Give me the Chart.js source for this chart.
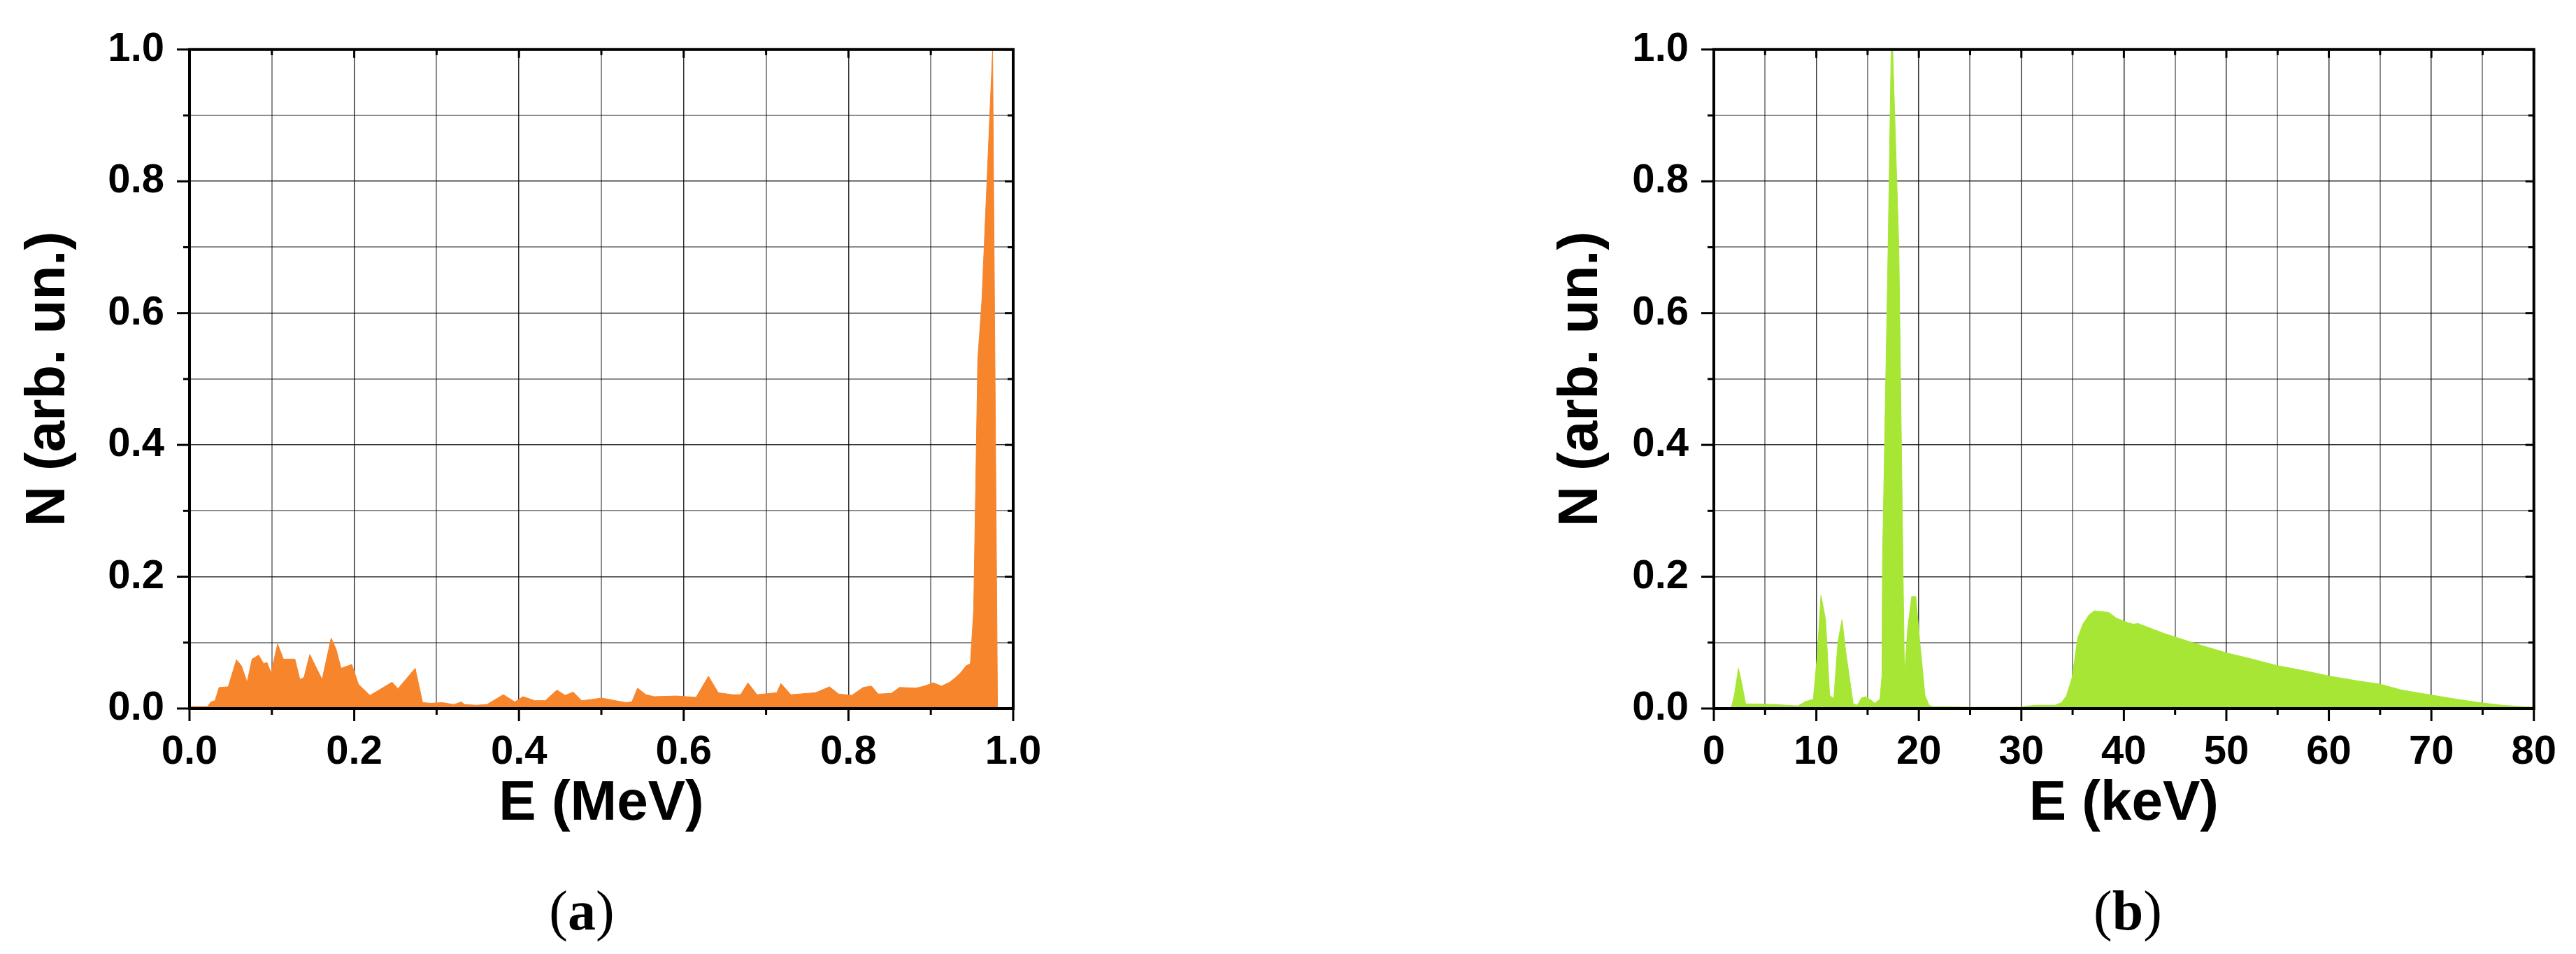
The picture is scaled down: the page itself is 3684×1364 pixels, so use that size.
<!DOCTYPE html>
<html>
<head>
<meta charset="utf-8">
<script src="https://cdn.jsdelivr.net/npm/chart.js@4.4.0/dist/chart.umd.min.js"></script>
<style>
  body { margin: 0; background: #fff; width: 3684px; height: 1364px; position: relative; overflow: hidden; }
  canvas { position: absolute; top: 0; }
  .cap { position: absolute; top: 1302px; transform: translate(-50%, -50%); font: 80px 'Liberation Serif', 'Times New Roman', serif; line-height: 1; color: #000; white-space: nowrap; }
</style>
</head>
<body>
<canvas id="chartA" width="1750" height="1200" style="left:0"></canvas>
<canvas id="chartB" width="1584" height="1200" style="left:2100px"></canvas>
<div class="cap" style="left:832px">(<b>a</b>)</div>
<div class="cap" style="left:3043px">(<b>b</b>)</div>
<script>
// (a) spectrum, E in MeV
const energyMeV = [0.000, 0.022, 0.026, 0.031, 0.036, 0.047, 0.057, 0.063, 0.070, 0.076, 0.084, 0.090, 0.094, 0.099, 0.107,
    0.114, 0.128, 0.134, 0.139, 0.146, 0.161, 0.172, 0.178, 0.184, 0.188, 0.193, 0.197, 0.205, 0.219, 0.226, 0.246, 0.253,
    0.274, 0.283, 0.293, 0.307, 0.321, 0.330, 0.334, 0.348, 0.361, 0.381, 0.395, 0.405, 0.419, 0.432, 0.446, 0.456, 0.466,
    0.476, 0.490, 0.500, 0.517, 0.530, 0.537, 0.544, 0.554, 0.564, 0.591, 0.615, 0.630, 0.642, 0.659, 0.669, 0.678, 0.689,
    0.713, 0.718, 0.730, 0.760, 0.777, 0.788, 0.804, 0.818, 0.828, 0.836, 0.852, 0.862, 0.882, 0.892, 0.903, 0.913, 0.923,
    0.930, 0.936, 0.943, 0.948, 0.952, 0.957, 0.962, 0.975, 0.981];
const countsA = [0.003, 0.003, 0.010, 0.012, 0.032, 0.033, 0.074, 0.065, 0.040, 0.075, 0.081, 0.068, 0.070, 0.054, 0.098,
    0.075, 0.075, 0.044, 0.047, 0.082, 0.044, 0.107, 0.090, 0.061, 0.063, 0.065, 0.067, 0.037, 0.020, 0.025, 0.040, 0.030,
    0.061, 0.009, 0.008, 0.009, 0.006, 0.010, 0.006, 0.005, 0.006, 0.021, 0.010, 0.018, 0.012, 0.012, 0.028, 0.020, 0.025,
    0.012, 0.014, 0.016, 0.012, 0.009, 0.010, 0.031, 0.021, 0.018, 0.019, 0.017, 0.049, 0.024, 0.021, 0.021, 0.039, 0.021,
    0.024, 0.038, 0.021, 0.024, 0.033, 0.022, 0.020, 0.032, 0.034, 0.022, 0.023, 0.032, 0.031, 0.034, 0.039, 0.034, 0.040,
    0.047, 0.054, 0.065, 0.068, 0.150, 0.530, 0.620, 1.000, 0.000];

// (b) spectrum, E in keV
const energyKeV = [0, 1.7, 2.0, 2.4, 2.7, 3.1, 3.8, 6.0, 8.2, 9.0, 9.7, 10.1, 10.45, 10.9, 11.3, 11.7, 12.1, 12.5, 12.9,
    13.6, 14.0, 14.4, 14.8, 15.3, 15.7, 16.2, 16.4, 16.45, 17.0, 17.3, 17.45, 18.05, 18.45, 18.6, 18.9, 19.3, 19.7, 20.1,
    20.6, 21.0, 21.3, 25, 30, 30.4, 31.4, 33.3, 33.9, 34.4, 34.95, 35.5, 36.0, 36.6, 37.1, 38.5, 39.3, 40.1, 40.9, 41.4,
    43.9, 47.1, 50.1, 52.0, 55.0, 57.4, 60.1, 62.8, 65.0, 67.1, 69.8, 72.5, 74.7, 76.9, 79.3, 80];
const countsB = [0.001, 0.001, 0.020, 0.061, 0.040, 0.007, 0.007, 0.006, 0.004, 0.011, 0.014, 0.083, 0.172, 0.135, 0.020,
    0.015, 0.100, 0.135, 0.083, 0.007, 0.005, 0.016, 0.018, 0.013, 0.008, 0.014, 0.050, 0.220, 0.700, 1.000, 1.000, 0.700,
    0.220, 0.050, 0.120, 0.170, 0.170, 0.100, 0.020, 0.005, 0.003, 0.002, 0.002, 0.0035, 0.005, 0.005, 0.009, 0.019, 0.047,
    0.107, 0.128, 0.142, 0.148, 0.146, 0.137, 0.132, 0.128, 0.129, 0.114, 0.098, 0.084, 0.077, 0.065, 0.058, 0.049, 0.042,
    0.037, 0.028, 0.021, 0.014, 0.009, 0.005, 0.0025, 0.002];

const xLabelA = 'E (MeV)';
const xLabelB = 'E (keV)';
const yLabel = 'N (arb. un.)';

const fontFamily = "'Liberation Sans', Arial, Helvetica, sans-serif";
Chart.defaults.font.family = fontFamily;
Chart.defaults.color = '#000';

function isMajor(v, step) {
    const r = v / step;
    return Math.abs(r - Math.round(r)) < 1e-6;
}

// frame around the plot plus outward/inward tick marks on all four sides
const frameTicks = {
    id: 'frameTicks',
    afterDatasetsDraw(chart, args, opts) {
        const { ctx, chartArea: a, scales: { x, y } } = chart;
        ctx.save();
        ctx.strokeStyle = '#000';
        ctx.lineWidth = 3;
        const seg = (x1, y1, x2, y2) => { ctx.beginPath(); ctx.moveTo(x1, y1); ctx.lineTo(x2, y2); ctx.stroke(); };
        x.ticks.forEach(t => {
            const px = x.getPixelForValue(t.value);
            const major = isMajor(t.value, opts.majorX);
            seg(px, a.bottom, px, a.bottom + (major ? 18 : 9));
            seg(px, a.top, px, a.top + (major ? 12 : 8));
        });
        y.ticks.forEach(t => {
            const py = y.getPixelForValue(t.value);
            const major = isMajor(t.value, opts.majorY);
            seg(a.left, py, a.left - (major ? 18 : 9), py);
            seg(a.right, py, a.right - (major ? 12 : 8), py);
        });
        ctx.lineWidth = 4;
        ctx.strokeRect(a.left, a.top, a.right - a.left, a.bottom - a.top);
        ctx.restore();
    }
};

function makeChart(id, xs, ys, color, cfg) {
    const points = xs.map((v, i) => ({ x: v, y: ys[i] }));
    return new Chart(document.getElementById(id), {
        type: 'line',
        data: {
            datasets: [{
                data: points,
                backgroundColor: color,
                borderColor: color,
                borderWidth: 1,
                pointRadius: 0,
                tension: 0,
                fill: 'origin'
            }]
        },
        plugins: [frameTicks],
        options: {
            responsive: false,
            animation: false,
            devicePixelRatio: 1,
            layout: { padding: { top: 63, right: cfg.padRight, left: 0, bottom: 0 } },
            scales: {
                x: {
                    type: 'linear',
                    min: 0,
                    max: cfg.xMax,
                    afterFit: s => { s.height = 187; },
                    border: { display: false },
                    grid: {
                        drawTicks: false,
                        color: c => isMajor(c.tick.value, cfg.majorX) ? 'rgba(0,0,0,0.8)' : 'rgba(0,0,0,0.45)',
                        lineWidth: c => isMajor(c.tick.value, cfg.majorX) ? 1.5 : 2
                    },
                    ticks: {
                        stepSize: cfg.minorX,
                        autoSkip: false,
                        maxRotation: 0,
                        padding: 28,
                        font: { size: 58, weight: 'bold' },
                        callback: v => isMajor(v, cfg.majorX) ? v.toFixed(cfg.xDigits) : ''
                    },
                    title: {
                        display: true,
                        text: cfg.xTitle,
                        font: { size: 80, weight: 'bold' },
                        padding: { top: 0, bottom: 2 }
                    }
                },
                y: {
                    min: 0,
                    max: 1,
                    afterFit: s => { s.width = cfg.yWidth; },
                    border: { display: false },
                    grid: {
                        drawTicks: false,
                        color: c => isMajor(c.tick.value, 0.2) ? 'rgba(0,0,0,0.8)' : 'rgba(0,0,0,0.45)',
                        lineWidth: c => isMajor(c.tick.value, 0.2) ? 1.5 : 2
                    },
                    ticks: {
                        stepSize: 0.1,
                        autoSkip: false,
                        padding: 36,
                        font: { size: 58, weight: 'bold' },
                        callback: v => isMajor(v, 0.2) ? v.toFixed(1) : ''
                    },
                    title: {
                        display: true,
                        text: yLabel,
                        font: { size: 80, weight: 'bold' },
                        padding: { top: cfg.yTitlePad, bottom: 0 }
                    }
                }
            },
            plugins: {
                legend: { display: false },
                tooltip: { enabled: false },
                frameTicks: { majorX: cfg.majorX, majorY: 0.2 }
            }
        }
    });
}

makeChart('chartA', energyMeV, countsA, '#f6852c', {
    xMax: 1, minorX: 0.1, majorX: 0.2, xDigits: 1, xTitle: xLabelA,
    padRight: 1750 - 1449, yWidth: 271, yTitlePad: 22
});

makeChart('chartB', energyKeV, countsB, '#a7e635', {
    xMax: 80, minorX: 5, majorX: 10, xDigits: 0, xTitle: xLabelB,
    padRight: 1584 - 1530, yWidth: 351, yTitlePad: 114
});
</script>
</body>
</html>
